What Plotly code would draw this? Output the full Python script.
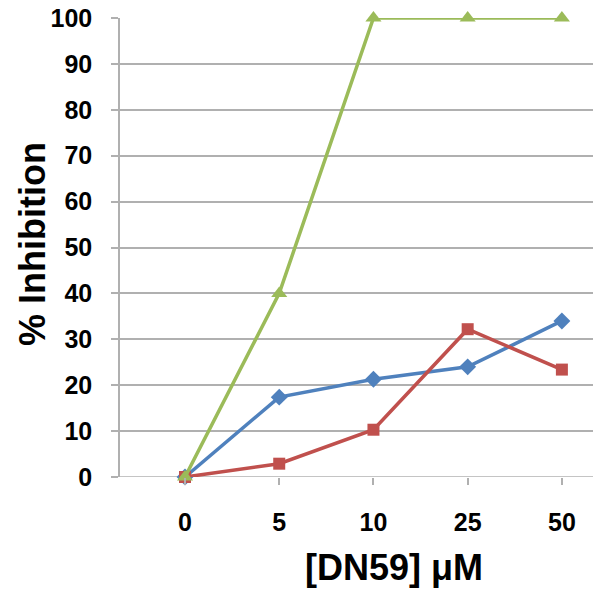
import plotly.graph_objects as go

categories = ["0", "5", "10", "25", "50"]
series_blue = [0, 17.4, 21.3, 24.0, 34.0]
series_red = [0, 2.9, 10.3, 32.2, 23.4]
series_green = [0, 40, 100, 100, 100]
y_ticks = list(range(0, 101, 10))

pos = list(range(len(categories)))
grid = "#B0B0B0"
font_family = "Liberation Sans, Arial, sans-serif"

# page has an 8px body margin; positions below are in figure coordinates
OFF = 8
W, H = 601, 590
L = 120 - OFF
T = 18 - OFF
B = H - (477 - OFF)
R = 0
pw = W - L - R
ph = H - T - B


def px_to_paper(screen_x, screen_y):
    fx, fy = screen_x - OFF, screen_y - OFF
    return (fx - L) / pw, (H - B - fy) / ph


fig = go.Figure()
fig.add_trace(go.Scatter(x=pos, y=series_blue, mode="lines+markers",
                         line=dict(color="#4F81BD", width=3.5),
                         marker=dict(symbol="diamond", size=13, color="#4F81BD"),
                         cliponaxis=False, showlegend=False))
fig.add_trace(go.Scatter(x=pos, y=series_red, mode="lines+markers",
                         line=dict(color="#C0504D", width=3.5),
                         marker=dict(symbol="square", size=12, color="#C0504D"),
                         cliponaxis=False, showlegend=False))
fig.add_trace(go.Scatter(x=pos, y=series_green, mode="lines+markers",
                         line=dict(color="#9BBB59", width=3.5),
                         marker=dict(symbol="triangle-up", size=14, color="#9BBB59"),
                         cliponaxis=False, showlegend=False))

xt_x, xt_y = px_to_paper(394, 567)
yt_x, yt_y = px_to_paper(33, 244)

fig.update_layout(
    width=W, height=H,
    margin=dict(l=L, r=R, t=T, b=B, autoexpand=False),
    plot_bgcolor="white", paper_bgcolor="white",
    font=dict(family=font_family, color="black"),
    xaxis=dict(range=[-0.69, 4.5], tickvals=pos, ticktext=[f"<b>{c}</b>" for c in categories],
               ticks="outside", ticklen=7, tickcolor=grid, tickwidth=1.5,
               showgrid=False, zeroline=False, showline=False, automargin=False,
               ticklabeloverflow="allow",
               tickfont=dict(size=25, family=font_family), ticklabelstandoff=16),
    yaxis=dict(range=[0, 100], tickvals=y_ticks, ticktext=[f"<b>{v}</b>" for v in y_ticks],
               ticks="outside", ticklen=7, tickcolor=grid, tickwidth=1.5,
               showgrid=True, gridcolor=grid, gridwidth=1.5, automargin=False,
               showline=True, linecolor=grid, linewidth=1.5, zeroline=False,
               ticklabeloverflow="allow",
               tickfont=dict(size=25, family=font_family), ticklabelstandoff=14),
    annotations=[
        dict(text="<b>[DN59] μM</b>", x=xt_x, y=xt_y, xref="paper", yref="paper",
             xanchor="center", yanchor="middle",
             showarrow=False, font=dict(size=36, family=font_family)),
        dict(text="<b>% Inhibition</b>", x=yt_x, y=yt_y, xref="paper", yref="paper",
             xanchor="center", yanchor="middle", textangle=-90,
             showarrow=False, font=dict(size=36, family=font_family)),
    ],
)
fig.add_shape(type="line", xref="paper", yref="y", x0=0, x1=1, y0=0, y1=0,
              line=dict(color=grid, width=1.5), layer="below")

fig.write_html("out.html")
